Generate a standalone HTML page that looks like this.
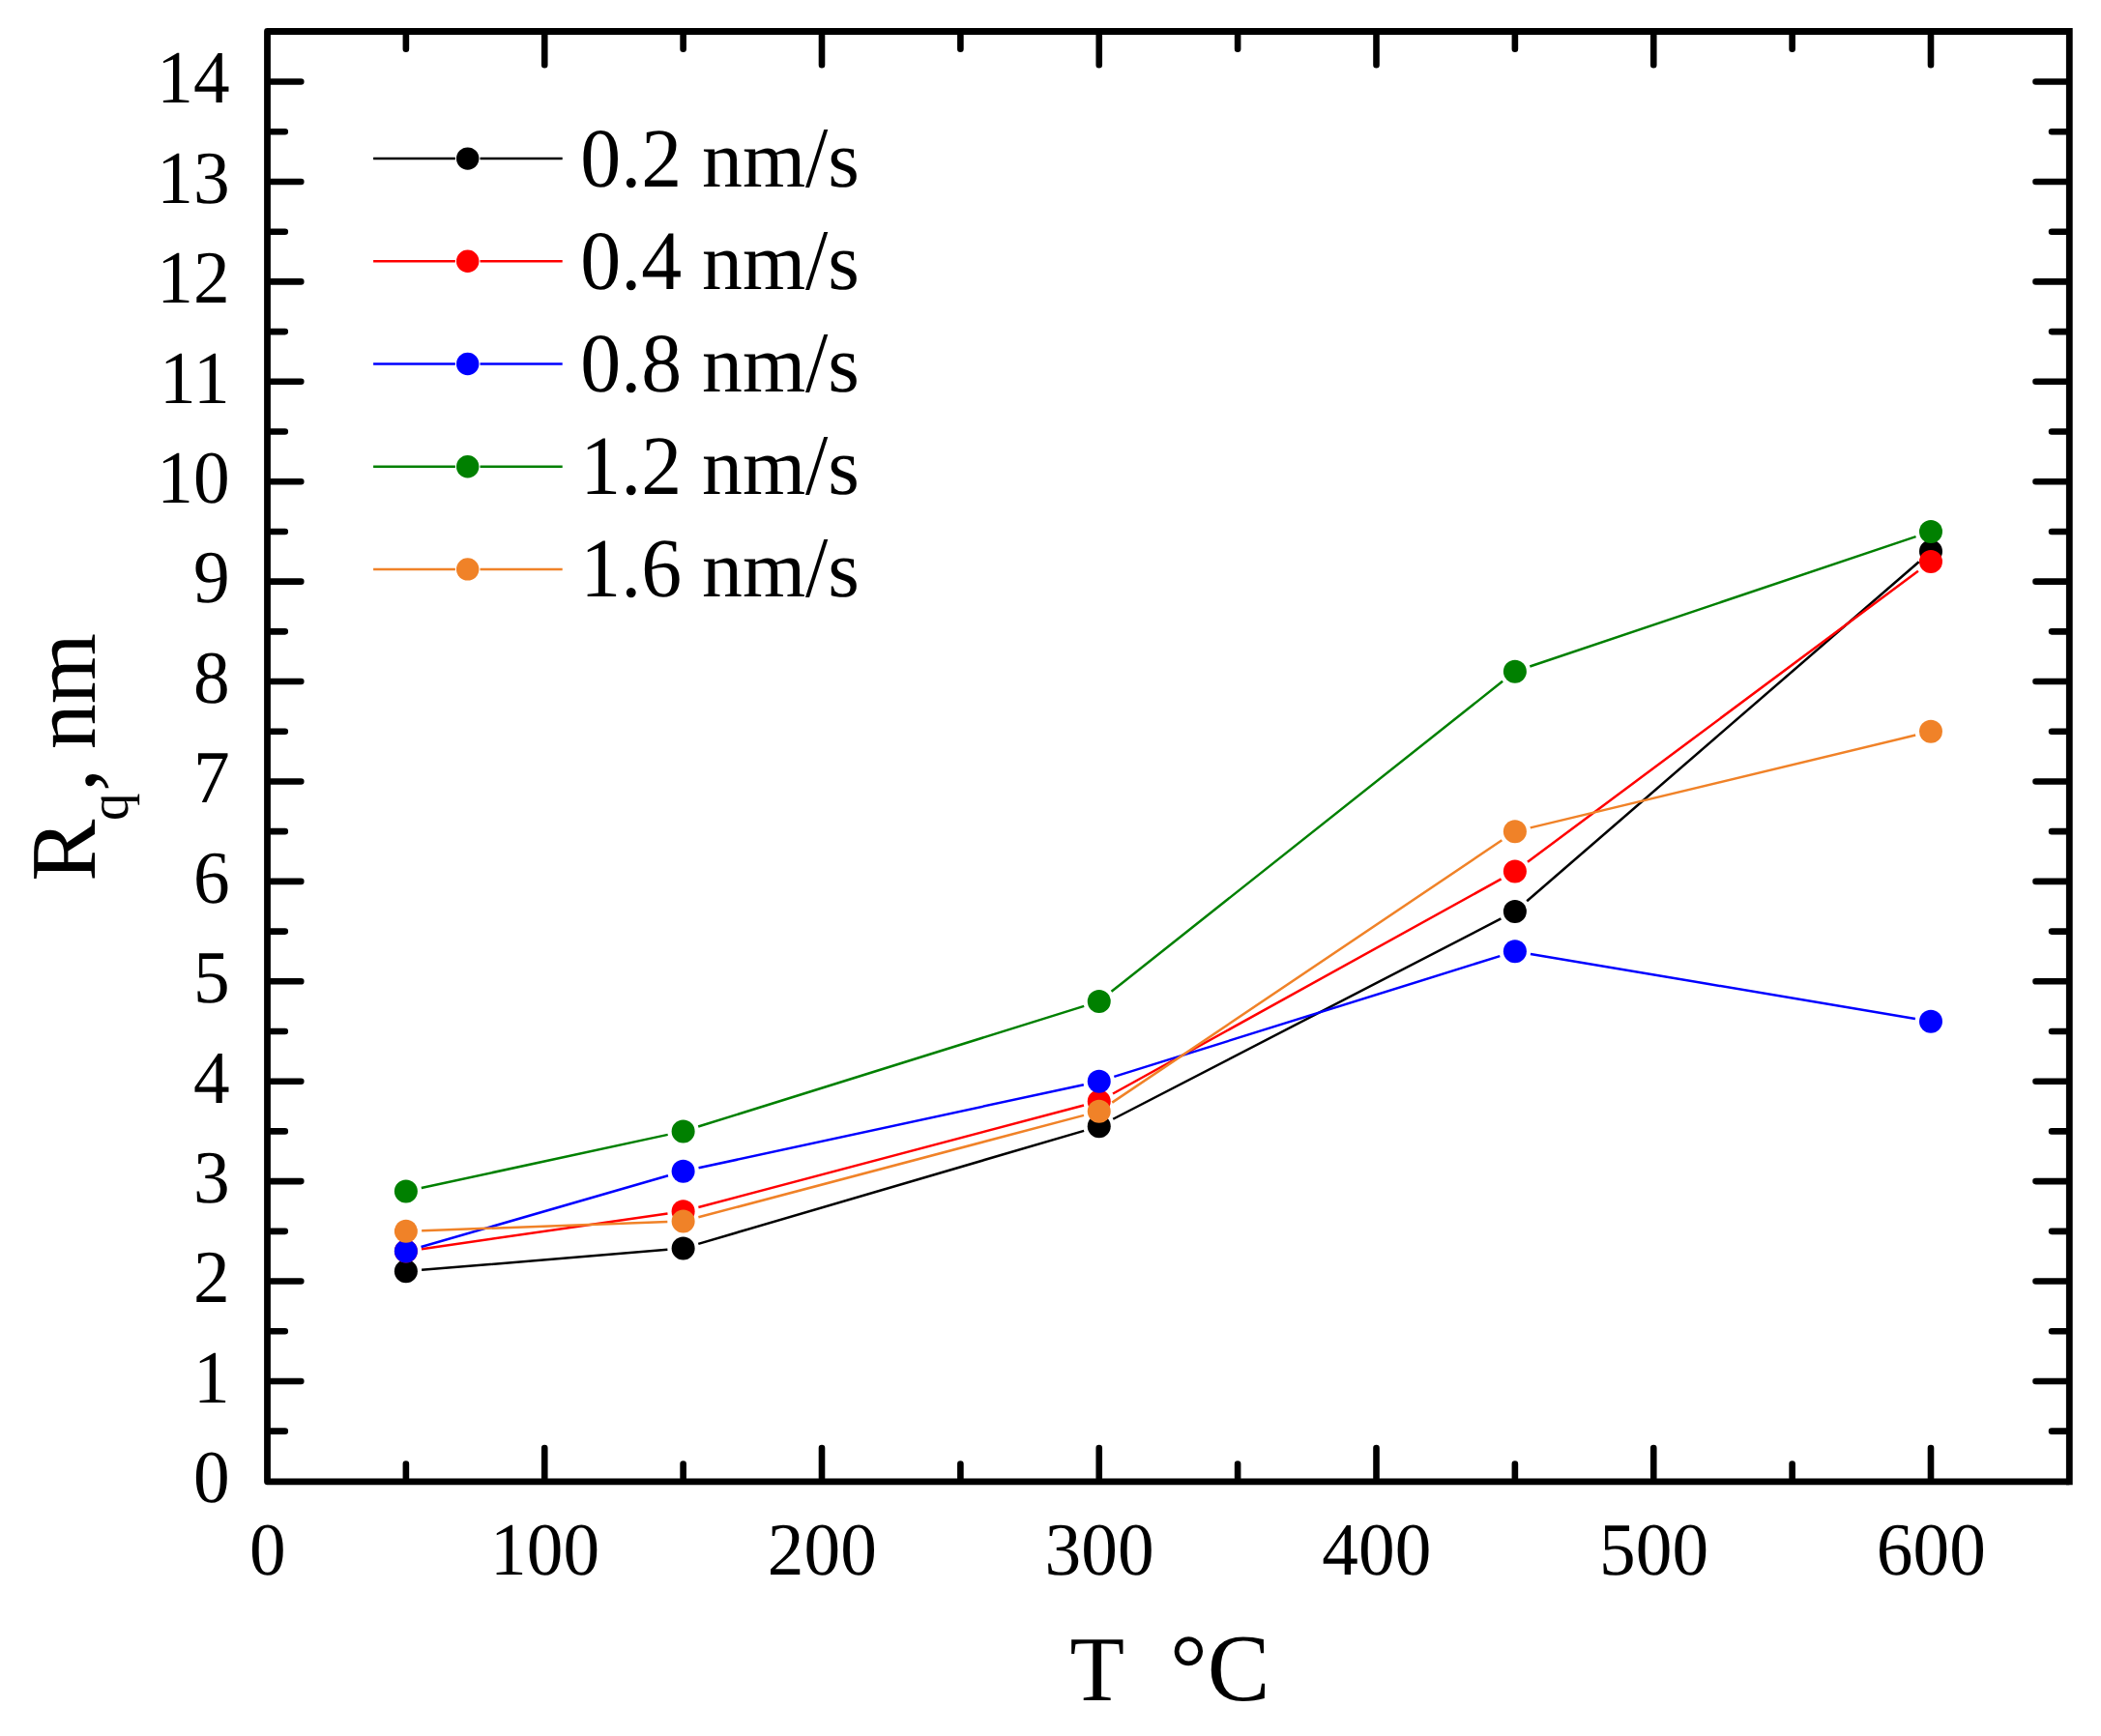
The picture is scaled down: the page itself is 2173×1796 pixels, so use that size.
<!DOCTYPE html>
<html lang="en"><head><meta charset="utf-8"><title>Rq vs T</title>
<style>html,body{margin:0;padding:0;background:#fff}svg{display:block}text{font-family:"Liberation Serif",serif;fill:#000;white-space:pre;text-rendering:geometricPrecision}</style></head><body>
<svg width="2173" height="1796" viewBox="0 0 2173 1796">
<rect width="2173" height="1796" fill="#fff"/>
<g stroke="#000" stroke-width="6.6" stroke-linecap="round" fill="none">
<path d="M279.80 1480.66h15.00M2137.00 1480.66h-15.00"/>
<path d="M279.80 1428.95h31.50M2137.00 1428.95h-31.50"/>
<path d="M279.80 1377.25h15.00M2137.00 1377.25h-15.00"/>
<path d="M279.80 1325.54h31.50M2137.00 1325.54h-31.50"/>
<path d="M279.80 1273.83h15.00M2137.00 1273.83h-15.00"/>
<path d="M279.80 1222.12h31.50M2137.00 1222.12h-31.50"/>
<path d="M279.80 1170.42h15.00M2137.00 1170.42h-15.00"/>
<path d="M279.80 1118.71h31.50M2137.00 1118.71h-31.50"/>
<path d="M279.80 1067.00h15.00M2137.00 1067.00h-15.00"/>
<path d="M279.80 1015.29h31.50M2137.00 1015.29h-31.50"/>
<path d="M279.80 963.59h15.00M2137.00 963.59h-15.00"/>
<path d="M279.80 911.88h31.50M2137.00 911.88h-31.50"/>
<path d="M279.80 860.17h15.00M2137.00 860.17h-15.00"/>
<path d="M279.80 808.46h31.50M2137.00 808.46h-31.50"/>
<path d="M279.80 756.76h15.00M2137.00 756.76h-15.00"/>
<path d="M279.80 705.05h31.50M2137.00 705.05h-31.50"/>
<path d="M279.80 653.34h15.00M2137.00 653.34h-15.00"/>
<path d="M279.80 601.63h31.50M2137.00 601.63h-31.50"/>
<path d="M279.80 549.93h15.00M2137.00 549.93h-15.00"/>
<path d="M279.80 498.22h31.50M2137.00 498.22h-31.50"/>
<path d="M279.80 446.51h15.00M2137.00 446.51h-15.00"/>
<path d="M279.80 394.80h31.50M2137.00 394.80h-31.50"/>
<path d="M279.80 343.10h15.00M2137.00 343.10h-15.00"/>
<path d="M279.80 291.39h31.50M2137.00 291.39h-31.50"/>
<path d="M279.80 239.68h15.00M2137.00 239.68h-15.00"/>
<path d="M279.80 187.97h31.50M2137.00 187.97h-31.50"/>
<path d="M279.80 136.27h15.00M2137.00 136.27h-15.00"/>
<path d="M279.80 84.56h31.50M2137.00 84.56h-31.50"/>
<path d="M419.88 1529.50v-15.00M419.88 35.80v15.00"/>
<path d="M563.25 1529.50v-31.50M563.25 35.80v31.50"/>
<path d="M706.62 1529.50v-15.00M706.62 35.80v15.00"/>
<path d="M850.00 1529.50v-31.50M850.00 35.80v31.50"/>
<path d="M993.38 1529.50v-15.00M993.38 35.80v15.00"/>
<path d="M1136.75 1529.50v-31.50M1136.75 35.80v31.50"/>
<path d="M1280.12 1529.50v-15.00M1280.12 35.80v15.00"/>
<path d="M1423.50 1529.50v-31.50M1423.50 35.80v31.50"/>
<path d="M1566.88 1529.50v-15.00M1566.88 35.80v15.00"/>
<path d="M1710.25 1529.50v-31.50M1710.25 35.80v31.50"/>
<path d="M1853.62 1529.50v-15.00M1853.62 35.80v15.00"/>
<path d="M1997.00 1529.50v-31.50M1997.00 35.80v31.50"/>
</g>
<path d="M2140.30 32.50H276.50V1532.80H2140.30" fill="none" stroke="#000" stroke-width="6.8" stroke-linejoin="round"/>
<path d="M2140.30 32.50V1532.80" fill="none" stroke="#000" stroke-width="6.8" stroke-linecap="square"/>
<g stroke="#000000" fill="#000000">
<path d="M436.12 1313.85L690.38 1292.76M722.27 1286.83L1121.11 1169.83M1151.23 1157.76L1552.40 950.39M1579.20 932.24L1984.68 581.28" fill="none" stroke-width="2.5"/>
<circle cx="419.88" cy="1315.20" r="12.0" stroke="none"/>
<circle cx="706.62" cy="1291.41" r="12.0" stroke="none"/>
<circle cx="1136.75" cy="1165.25" r="12.0" stroke="none"/>
<circle cx="1566.88" cy="942.90" r="12.0" stroke="none"/>
<circle cx="1997.00" cy="570.61" r="12.0" stroke="none"/>
</g>
<g stroke="#ff0000" fill="#ff0000">
<path d="M436.01 1292.19L690.49 1255.48M722.38 1248.98L1120.99 1143.56M1151.01 1131.51L1552.61 909.43M1579.94 891.80L1983.93 590.69" fill="none" stroke-width="2.5"/>
<circle cx="419.88" cy="1294.52" r="12.0" stroke="none"/>
<circle cx="706.62" cy="1253.15" r="12.0" stroke="none"/>
<circle cx="1136.75" cy="1139.39" r="12.0" stroke="none"/>
<circle cx="1566.88" cy="901.54" r="12.0" stroke="none"/>
<circle cx="1997.00" cy="580.95" r="12.0" stroke="none"/>
</g>
<g stroke="#0000ff" fill="#0000ff">
<path d="M435.54 1290.00L690.96 1216.30M722.56 1208.34L1120.82 1122.16M1152.31 1113.85L1551.32 989.13M1582.95 986.98L1980.93 1053.96" fill="none" stroke-width="2.5"/>
<circle cx="419.88" cy="1294.52" r="12.0" stroke="none"/>
<circle cx="706.62" cy="1211.78" r="12.0" stroke="none"/>
<circle cx="1136.75" cy="1118.71" r="12.0" stroke="none"/>
<circle cx="1566.88" cy="984.27" r="12.0" stroke="none"/>
<circle cx="1997.00" cy="1056.66" r="12.0" stroke="none"/>
</g>
<g stroke="#008000" fill="#008000">
<path d="M435.81 1229.02L690.69 1173.86M722.18 1165.55L1121.19 1040.84M1149.52 1025.85L1554.11 704.84M1582.32 689.51L1981.55 555.13" fill="none" stroke-width="2.5"/>
<circle cx="419.88" cy="1232.47" r="12.0" stroke="none"/>
<circle cx="706.62" cy="1170.42" r="12.0" stroke="none"/>
<circle cx="1136.75" cy="1035.98" r="12.0" stroke="none"/>
<circle cx="1566.88" cy="694.71" r="12.0" stroke="none"/>
<circle cx="1997.00" cy="549.93" r="12.0" stroke="none"/>
</g>
<g stroke="#f08228" fill="#f08228">
<path d="M436.16 1273.25L690.34 1264.08M722.38 1259.32L1120.99 1153.90M1150.27 1140.63L1553.35 869.28M1582.72 856.36L1981.15 760.57" fill="none" stroke-width="2.5"/>
<circle cx="419.88" cy="1273.83" r="12.0" stroke="none"/>
<circle cx="706.62" cy="1263.49" r="12.0" stroke="none"/>
<circle cx="1136.75" cy="1149.73" r="12.0" stroke="none"/>
<circle cx="1566.88" cy="860.17" r="12.0" stroke="none"/>
<circle cx="1997.00" cy="756.76" r="12.0" stroke="none"/>
</g>
<path d="M386.1 164.10H470.90M496.50 164.10H581.7" stroke="#000000" stroke-width="2.5" fill="none"/>
<circle cx="483.7" cy="164.10" r="11.7" fill="#000000"/>
<text xml:space="preserve" transform="translate(600.30 192.50) scale(1 1.041)" font-size="83.8">0.2</text>
<text xml:space="preserve" x="705.05" y="192.50" font-size="83.8"> nm</text>
<text xml:space="preserve" transform="translate(833.08 192.50) scale(1 1.07)" font-size="83.8">/</text>
<text xml:space="preserve" x="856.36" y="192.50" font-size="83.8">s</text>
<path d="M386.1 270.30H470.90M496.50 270.30H581.7" stroke="#ff0000" stroke-width="2.5" fill="none"/>
<circle cx="483.7" cy="270.30" r="11.7" fill="#ff0000"/>
<text xml:space="preserve" transform="translate(600.30 298.70) scale(1 1.041)" font-size="83.8">0.4</text>
<text xml:space="preserve" x="705.05" y="298.70" font-size="83.8"> nm</text>
<text xml:space="preserve" transform="translate(833.08 298.70) scale(1 1.07)" font-size="83.8">/</text>
<text xml:space="preserve" x="856.36" y="298.70" font-size="83.8">s</text>
<path d="M386.1 376.50H470.90M496.50 376.50H581.7" stroke="#0000ff" stroke-width="2.5" fill="none"/>
<circle cx="483.7" cy="376.50" r="11.7" fill="#0000ff"/>
<text xml:space="preserve" transform="translate(600.30 404.90) scale(1 1.041)" font-size="83.8">0.8</text>
<text xml:space="preserve" x="705.05" y="404.90" font-size="83.8"> nm</text>
<text xml:space="preserve" transform="translate(833.08 404.90) scale(1 1.07)" font-size="83.8">/</text>
<text xml:space="preserve" x="856.36" y="404.90" font-size="83.8">s</text>
<path d="M386.1 482.70H470.90M496.50 482.70H581.7" stroke="#008000" stroke-width="2.5" fill="none"/>
<circle cx="483.7" cy="482.70" r="11.7" fill="#008000"/>
<text xml:space="preserve" transform="translate(600.30 511.10) scale(1 1.041)" font-size="83.8">1.2</text>
<text xml:space="preserve" x="705.05" y="511.10" font-size="83.8"> nm</text>
<text xml:space="preserve" transform="translate(833.08 511.10) scale(1 1.07)" font-size="83.8">/</text>
<text xml:space="preserve" x="856.36" y="511.10" font-size="83.8">s</text>
<path d="M386.1 588.90H470.90M496.50 588.90H581.7" stroke="#f08228" stroke-width="2.5" fill="none"/>
<circle cx="483.7" cy="588.90" r="11.7" fill="#f08228"/>
<text xml:space="preserve" transform="translate(600.30 617.30) scale(1 1.041)" font-size="83.8">1.6</text>
<text xml:space="preserve" x="705.05" y="617.30" font-size="83.8"> nm</text>
<text xml:space="preserve" transform="translate(833.08 617.30) scale(1 1.07)" font-size="83.8">/</text>
<text xml:space="preserve" x="856.36" y="617.30" font-size="83.8">s</text>
<text xml:space="preserve" transform="translate(237.60 1554.17) scale(1 1.03)" font-size="75.3" text-anchor="end">0</text>
<text xml:space="preserve" transform="translate(237.60 1450.75) scale(1 1.03)" font-size="75.3" text-anchor="end">1</text>
<text xml:space="preserve" transform="translate(237.60 1347.34) scale(1 1.03)" font-size="75.3" text-anchor="end">2</text>
<text xml:space="preserve" transform="translate(237.60 1243.92) scale(1 1.03)" font-size="75.3" text-anchor="end">3</text>
<text xml:space="preserve" transform="translate(237.60 1140.51) scale(1 1.03)" font-size="75.3" text-anchor="end">4</text>
<text xml:space="preserve" transform="translate(237.60 1037.09) scale(1 1.03)" font-size="75.3" text-anchor="end">5</text>
<text xml:space="preserve" transform="translate(237.60 933.68) scale(1 1.03)" font-size="75.3" text-anchor="end">6</text>
<text xml:space="preserve" transform="translate(237.60 830.26) scale(1 1.03)" font-size="75.3" text-anchor="end">7</text>
<text xml:space="preserve" transform="translate(237.60 726.85) scale(1 1.03)" font-size="75.3" text-anchor="end">8</text>
<text xml:space="preserve" transform="translate(237.60 623.43) scale(1 1.03)" font-size="75.3" text-anchor="end">9</text>
<text xml:space="preserve" transform="translate(237.60 520.02) scale(1 1.03)" font-size="75.3" text-anchor="end">10</text>
<text xml:space="preserve" transform="translate(237.60 416.60) scale(1 1.03)" font-size="75.3" text-anchor="end">11</text>
<text xml:space="preserve" transform="translate(237.60 313.19) scale(1 1.03)" font-size="75.3" text-anchor="end">12</text>
<text xml:space="preserve" transform="translate(237.60 209.77) scale(1 1.03)" font-size="75.3" text-anchor="end">13</text>
<text xml:space="preserve" transform="translate(237.60 106.36) scale(1 1.03)" font-size="75.3" text-anchor="end">14</text>
<text xml:space="preserve" transform="translate(276.80 1628.50) scale(1 1.03)" font-size="75.3" text-anchor="middle">0</text>
<text xml:space="preserve" transform="translate(563.55 1628.50) scale(1 1.03)" font-size="75.3" text-anchor="middle">100</text>
<text xml:space="preserve" transform="translate(850.30 1628.50) scale(1 1.03)" font-size="75.3" text-anchor="middle">200</text>
<text xml:space="preserve" transform="translate(1137.05 1628.50) scale(1 1.03)" font-size="75.3" text-anchor="middle">300</text>
<text xml:space="preserve" transform="translate(1423.80 1628.50) scale(1 1.03)" font-size="75.3" text-anchor="middle">400</text>
<text xml:space="preserve" transform="translate(1710.55 1628.50) scale(1 1.03)" font-size="75.3" text-anchor="middle">500</text>
<text xml:space="preserve" transform="translate(1997.30 1628.50) scale(1 1.03)" font-size="75.3" text-anchor="middle">600</text>
<text xml:space="preserve" transform="translate(1106.60 1759.40) scale(1 1.036)" font-size="92.5">T</text>
<text xml:space="preserve" transform="translate(1210.00 1759.40) scale(1 1.02)" font-size="97">°C</text>
<text transform="translate(98.20 911.80) rotate(-90)" font-size="96">R</text>
<text transform="translate(131.80 849.00) rotate(-90)" font-size="57">q</text>
<text transform="translate(98.20 818.70) rotate(-90)" font-size="95">,</text>
<text transform="translate(98.20 775.30) rotate(-90)" font-size="94">nm</text>
</svg></body></html>
